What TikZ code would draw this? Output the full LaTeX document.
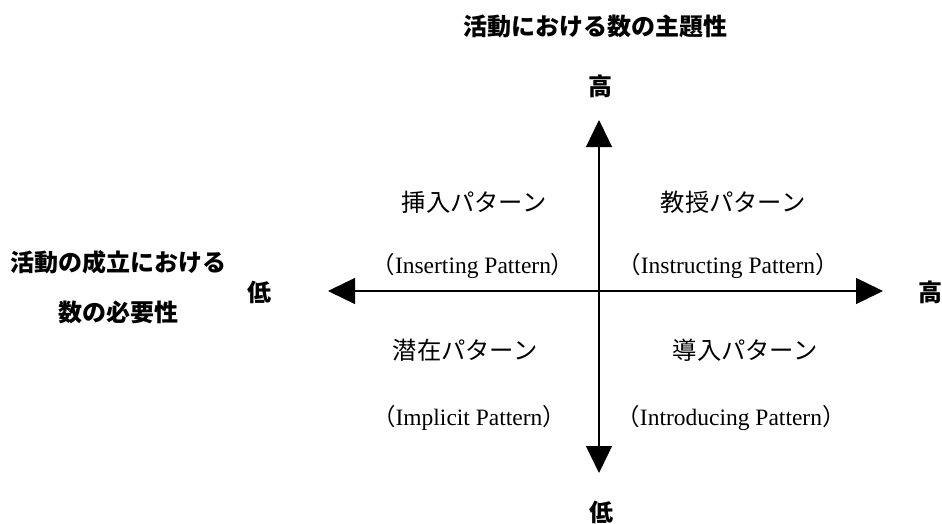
\documentclass[tikz,border=0pt]{standalone}
\usepackage{fontspec}
\setmainfont{Liberation Serif}
\newfontfamily\jp{Noto Sans CJK JP}
\usetikzlibrary{arrows.meta}
\tikzset{
  axis/.style={line width=1.3pt, -{Triangle[length=27pt,width=26pt]}},
  boldlabel/.style={font=\jp\bfseries\fontsize{24}{28}\selectfont, inner sep=0pt, anchor=center},
  quadjp/.style={font=\jp\fontsize{24.3}{28}\selectfont, inner sep=0pt, anchor=center},
  quaden/.style={font=\fontsize{23.5}{28}\selectfont, inner sep=0pt, anchor=center},
}
\newcommand{\enparen}[1]{{\jp（}#1{\jp）}}
\begin{document}
\begin{tikzpicture}[x=1pt,y=-1pt]
\useasboundingbox (0,0) rectangle (942,524);
% axis endpoints
\coordinate (c) at (599,291);
\coordinate (l) at (328,291);
\coordinate (r) at (883,291);
\coordinate (t) at (599,120);
\coordinate (b) at (599,473);
\draw[axis] (c) -- (l);
\draw[axis] (c) -- (r);
\draw[axis] (c) -- (t);
\draw[axis] (c) -- (b);
% axis labels
\node[boldlabel] (title) at (595,26) {活動における数の主題性};
\node[boldlabel] (hiT) at (600,86) {高};
\node[boldlabel] (loB) at (601,512) {低};
\node[boldlabel] (hiR) at (930,292) {高};
\node[boldlabel] (loL) at (259,292) {低};
\node[boldlabel] (xl1) at (118,262) {活動の成立における};
\node[boldlabel] (xl2) at (118,312) {数の必要性};
% quadrants
\node[quadjp] (q1j) at (474,202) {挿入パターン};
\node[quaden] (q1e) at (473,266) {\enparen{Inserting Pattern}};
\node[quadjp] (q2j) at (733,202) {教授パターン};
\node[quaden] (q2e) at (728,266) {\enparen{Instructing Pattern}};
\node[quadjp] (q3j) at (465,350) {潜在パターン};
\node[quaden] (q3e) at (469,418) {\enparen{Implicit Pattern}};
\node[quadjp] (q4j) at (745,350) {導入パターン};
\node[quaden] (q4e) at (731,418) {\enparen{Introducing Pattern}};
\end{tikzpicture}
\end{document}
